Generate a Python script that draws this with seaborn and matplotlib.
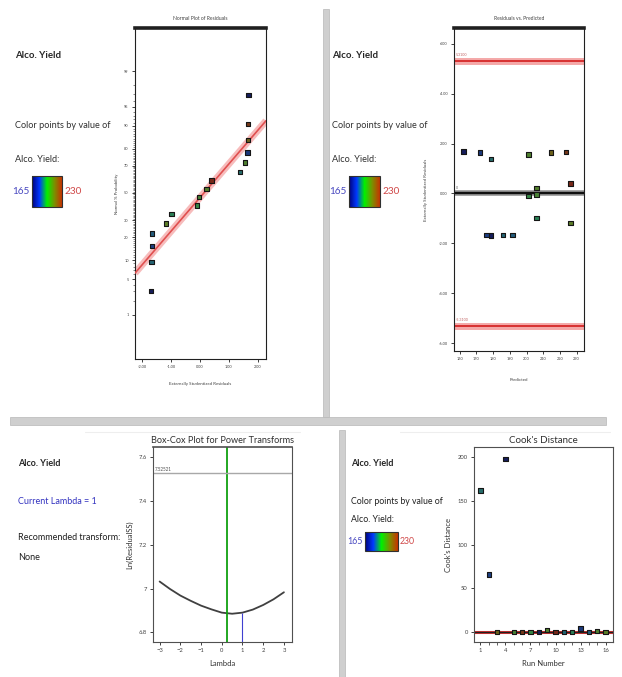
import matplotlib
matplotlib.use("Agg")
from statistics import NormalDist

import numpy as np
import pandas as pd
import seaborn as sns
import matplotlib.pyplot as plt
from matplotlib.colors import LinearSegmentedColormap, Normalize
from matplotlib.cm import ScalarMappable
from matplotlib.patches import Rectangle

# ---- values ----
runs = list(range(1, 17))
predicted = [178.7, 176.1, 214.8, 162.4, 206.0, 223.7, 201.2, 178.7,
             206.0, 226.3, 185.9, 206.0, 172.2, 191.5, 201.2, 226.3]
residuals = [1.38, -1.66, 1.65, 1.68, -0.04, 1.66, -0.11, -1.68,
             0.23, 0.40, -1.665, -0.98, 1.64, -1.655, 1.56, -1.18]
alco_yield = [190, 178, 218, 168, 205, 226, 200, 168,
              208, 229, 188, 195, 176, 186, 207, 210]
cooks = [162, 66, 0, 198, 0, 0, 0, 0, 2, 0, 0, 0, 4, 0, 1, 0]

normal_pct = [3.1, 9.4, 15.6, 21.9, 28.1, 34.4, 40.6, 46.9,
              53.1, 59.4, 65.6, 71.9, 78.1, 84.4, 90.6, 96.9]
prob_ticks = [1, 5, 10, 20, 30, 50, 70, 80, 90, 95, 99]
normal_line_x = [-2.24, 2.28]
normal_line_pct = [6.3, 91.6]

resid_limit = 5.31
pred_ticks = [160, 170, 180, 190, 200, 210, 220, 230]

lambdas = [-3, -2.5, -2, -1.5, -1, -0.5, 0, 0.5, 1, 1.5, 2, 2.5, 3]
ln_ss = [7.032, 6.998, 6.968, 6.944, 6.922, 6.905, 6.890, 6.885,
         6.890, 6.904, 6.925, 6.951, 6.983]
best_lambda = 0.24
current_lambda = 1
ci_level = 7.52521

df = pd.DataFrame({"run": runs, "predicted": predicted, "residual": residuals,
                   "yield": alco_yield, "cooks": cooks})

W, H = 622, 677
sns.set_theme(style="white")
plt.rcParams["font.family"] = ["Lato", "DejaVu Sans"]

cmap = LinearSegmentedColormap.from_list(
    "de", ["#00007a", "#0038ff", "#00f000", "#7a9000", "#c83200"])
norm = Normalize(165, 230)
# points look darker than the key in the reference
dot_cmap = LinearSegmentedColormap.from_list(
    "dots", ["#141450", "#1f4a90", "#2c8a4c", "#6a7a1c", "#7a2418"])
palette = {v: dot_cmap(norm(v)) for v in df["yield"].unique()}

fig = plt.figure(figsize=(W / 100, H / 100), dpi=100)


def px_axes(l, t, r, b):
    return fig.add_axes([l / W, 1 - b / H, (r - l) / W, (b - t) / H])


def ftext(x, y, s, **kw):
    kw.setdefault("va", "center")
    fig.text(x / W, 1 - y / H, s, **kw)


def color_key(l, t, r, b, fs):
    cax = px_axes(l, t, r, b)
    cb = fig.colorbar(ScalarMappable(norm=norm, cmap=cmap), cax=cax,
                      orientation="horizontal")
    cb.set_ticks([])
    cb.outline.set_linewidth(0.8)
    cb.outline.set_edgecolor("#303030")
    ftext(l - 2, (t + b) / 2, "165", ha="right", fontsize=fs, color="#4848c0")
    ftext(r + 2, (t + b) / 2, "230", ha="left", fontsize=fs, color="#d04848")


def style_small(ax, fs):
    for s in ax.spines.values():
        s.set_color("#202020")
        s.set_linewidth(0.8)
    ax.tick_params(axis="both", which="major", direction="out", length=2.5,
                   width=0.6, color="#202020", labelsize=fs, pad=2,
                   labelcolor="#404040", left=True, bottom=True)


scatter_kw = dict(marker="s", s=10, edgecolor="#151515", linewidth=0.8,
                  legend=False, zorder=4)

# ---- separators ----
for (l, t, r, b) in [(323, 9, 329, 417), (10, 417, 606, 425), (339, 430, 345, 677)]:
    fig.add_artist(Rectangle((l / W, 1 - b / H), (r - l) / W, (b - t) / H,
                             transform=fig.transFigure, facecolor="#cfcfcf",
                             edgecolor="#b8b8b8", linewidth=0.5))
for (l, r) in [(85, 300), (400, 610)]:
    fig.add_artist(plt.Line2D([l / W, r / W], [1 - 432 / H] * 2,
                              transform=fig.transFigure, color="#eeeeee", lw=0.8))

# ---- top-left: normal plot of residuals ----
ax1 = px_axes(135, 28, 266, 359)
nd = NormalDist()
dn = df.sort_values("residual").reset_index(drop=True)
dn["z"] = [nd.inv_cdf(p / 100) for p in normal_pct]
line_z = [nd.inv_cdf(p / 100) for p in normal_line_pct]
ax1.plot(normal_line_x, line_z, color="#f4a0a0", lw=5, alpha=0.7, zorder=2,
         solid_capstyle="butt")
ax1.plot(normal_line_x, line_z, color="#e05050", lw=1.2, zorder=3)
sns.scatterplot(data=dn, x="residual", y="z", hue="yield", palette=palette,
                ax=ax1, **scatter_kw)
ax1.set_xlim(-2.24, 2.28)
ax1.set_ylim(-3.17, 3.15)
ax1.set_xticks([-2, -1, 0, 1, 2], ["-2.00", "-1.00", "0.00", "1.00", "2.00"])
ax1.set_yticks([nd.inv_cdf(p / 100) for p in prob_ticks], [str(p) for p in prob_ticks])
ax1.set_yticks([nd.inv_cdf(p / 100) for p in range(1, 100)], minor=True)
style_small(ax1, 2.8)
ax1.tick_params(axis="y", which="minor", length=1.2, width=0.4, color="#303030", left=True)
ax1.spines["top"].set_linewidth(2.6)
ax1.set_xlabel("Externally Studentized Residuals", fontsize=3.2, color="#404040", labelpad=9)
ax1.set_ylabel("Normal % Probability", fontsize=3.2, color="#404040", labelpad=4)
ax1.set_title("Normal Plot of Residuals", fontsize=3.6, color="#404040", pad=6)

ftext(15, 56, "Alco. Yield", fontsize=6.9, fontweight="bold")
ftext(15, 125, "Color points by value of", fontsize=6.6, color="#303030")
ftext(15, 160, "Alco. Yield:", fontsize=6.6, color="#303030")
color_key(32, 176, 62, 207, 7.2)

# ---- top-right: residuals vs predicted ----
ax2 = px_axes(454, 28, 584, 351)
for y0 in (resid_limit, -resid_limit):
    ax2.axhline(y0, color="#f4a8a8", lw=5, zorder=1)
    ax2.axhline(y0, color="#d83030", lw=1.4, zorder=2)
ax2.axhline(0, color="#909090", lw=4, zorder=1)
ax2.axhline(0, color="#101010", lw=1.6, zorder=2)
sns.scatterplot(data=df, x="predicted", y="residual", hue="yield", palette=palette,
                ax=ax2, **scatter_kw)
ax2.text(157.5, resid_limit + 0.15, f"{resid_limit:.4f}", fontsize=2.6, color="#c06060", va="bottom")
ax2.text(157.5, -resid_limit + 0.15, f"{-resid_limit:.4f}", fontsize=2.6, color="#c06060", va="bottom")
ax2.text(157.5, 0.15, "0", fontsize=2.6, color="#606060", va="bottom")
ax2.set_xlim(156.6, 234.4)
ax2.set_ylim(-6.32, 6.64)
ax2.set_xticks(pred_ticks, [str(t) for t in pred_ticks])
ax2.set_yticks([-6, -4, -2, 0, 2, 4, 6], ["-6.00", "-4.00", "-2.00", "0.00", "2.00", "4.00", "6.00"])
style_small(ax2, 2.8)
ax2.spines["top"].set_linewidth(2.6)
ax2.set_xlabel("Predicted", fontsize=3.2, color="#404040", labelpad=12)
ax2.set_ylabel("Externally Studentized Residuals", fontsize=3.2, color="#404040", labelpad=8)
ax2.set_title("Residuals vs. Predicted", fontsize=3.6, color="#404040", pad=6)

ftext(332, 56, "Alco. Yield", fontsize=6.9, fontweight="bold")
ftext(332, 125, "Color points by value of", fontsize=6.6, color="#303030")
ftext(332, 160, "Alco. Yield:", fontsize=6.6, color="#303030")
color_key(349, 176, 380, 207, 7.2)

# ---- bottom-left: Box-Cox ----
ax3 = px_axes(153, 447, 292, 642)
bc = pd.DataFrame({"lambda": lambdas, "ln_ss": ln_ss})
sns.lineplot(data=bc, x="lambda", y="ln_ss", ax=ax3, color="#404040", lw=1.3)
ax3.axvline(best_lambda, color="#10a010", lw=1.3)
ax3.axhline(ci_level, color="#a8a8a8", lw=1.0)
ax3.vlines(current_lambda, 6.756, ln_ss[lambdas.index(current_lambda)], color="#4040d0", lw=0.8)
ax3.text(-3.25, ci_level + 0.006, f"{ci_level:.5f}", fontsize=3.3, color="#505050", va="bottom")
ax3.set_xlim(-3.32, 3.39)
ax3.set_ylim(6.756, 7.646)
ax3.set_xticks([-3, -2, -1, 0, 1, 2, 3])
ax3.set_yticks([6.8, 7.0, 7.2, 7.4, 7.6], ["6.8", "7", "7.2", "7.4", "7.6"])
style_small(ax3, 4.2)
ax3.spines["top"].set_linewidth(1.2)
for s in ax3.spines.values():
    s.set_color("#505050")
ax3.set_xlabel("Lambda", fontsize=5.5, color="#303030", labelpad=5)
ax3.set_ylabel("Ln(ResidualSS)", fontsize=5.5, color="#303030", labelpad=4)
ax3.set_title("Box-Cox Plot for Power Transforms", fontsize=6.6, color="#303030", pad=3)

ftext(18, 463, "Alco. Yield", fontsize=6.5, fontweight="bold")
ftext(18, 502, "Current Lambda = 1", fontsize=6.5, color="#3434c0")
ftext(18, 538, "Recommended transform:", fontsize=6.5, color="#202020")
ftext(18, 557, "None", fontsize=6.5, color="#202020")

# ---- bottom-right: Cook's distance ----
ax4 = px_axes(474, 447, 613, 642)
ax4.axhline(0, color="#c03030", lw=2.2, zorder=1)
ax4.axhline(0, color="#202020", lw=0.8, zorder=2)
sns.scatterplot(data=df, x="run", y="cooks", hue="yield", palette=palette,
                ax=ax4, **scatter_kw)
ax4.set_xlim(0.24, 16.88)
ax4.set_ylim(-11.5, 212)
ax4.set_xticks([1, 4, 7, 10, 13, 16])
ax4.set_xticks(runs, minor=True)
ax4.set_yticks([0, 50, 100, 150, 200])
style_small(ax4, 4.2)
ax4.tick_params(axis="x", which="minor", direction="out", length=1.8, width=0.5,
                color="#202020", bottom=True)
for s in ax4.spines.values():
    s.set_color("#505050")
ax4.set_xlabel("Run Number", fontsize=5.5, color="#303030", labelpad=5)
ax4.set_ylabel("Cook's Distance", fontsize=5.5, color="#303030", labelpad=4)
ax4.set_title("Cook's Distance", fontsize=7, color="#303030", pad=3)

ftext(351, 463, "Alco. Yield", fontsize=6.5, fontweight="bold")
ftext(351, 502, "Color points by value of", fontsize=6.3, color="#202020")
ftext(351, 520, "Alco. Yield:", fontsize=6.3, color="#202020")
color_key(365, 532, 398, 551, 6.3)

fig.savefig("out.png", dpi=100, facecolor="white")
